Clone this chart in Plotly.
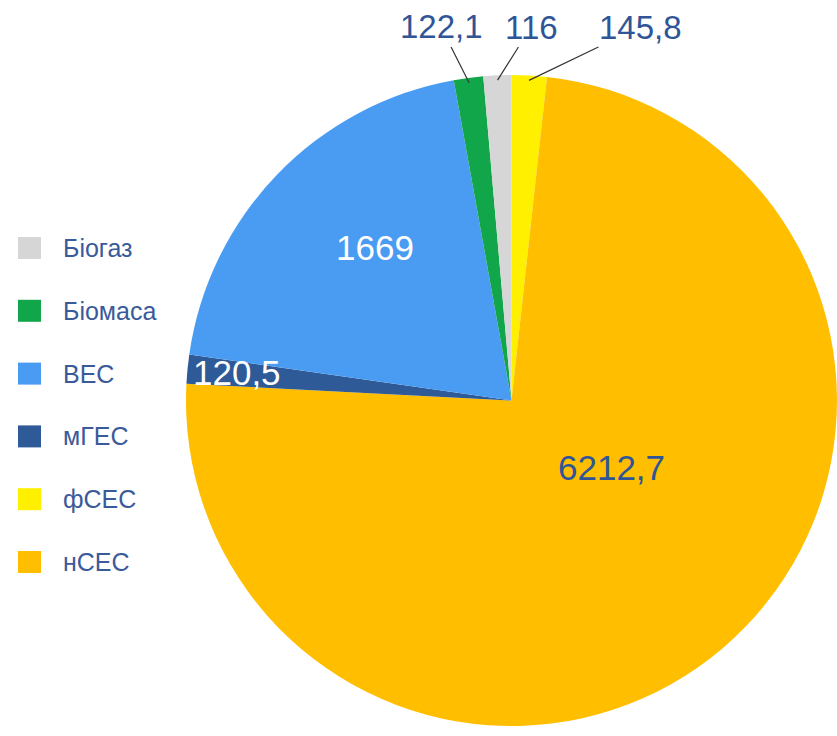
import math
import plotly.graph_objects as go

# ---- data (clockwise from 12 o'clock) ----
labels = ["фСЕС", "нСЕС", "мГЕС", "ВЕС", "Біомаса", "Біогаз"]
values = [145.8, 6212.7, 120.5, 1669, 122.1, 116]
value_text = ["145,8", "6212,7", "120,5", "1669", "122,1", "116"]
colors = ["#fff000", "#ffbf00", "#2e5a97", "#4a9cf2", "#12a64a", "#d6d6d6"]
legend_order = ["Біогаз", "Біомаса", "ВЕС", "мГЕС", "фСЕС", "нСЕС"]

W, H = 837, 736
TXT = "#2f5597"
FONT = "Liberation Sans, Arial, sans-serif"


def px(sx):
    return sx / W


def py(sy):
    return 1 - sy / H


# pie geometry (screen px)
left, right, top, bottom = 186, 837, 73, 728
dom_x = [px(left), px(right)]
dom_y = [py(bottom), py(top)]
cx = (left + right) / 2
cy = (top + bottom) / 2
r = min(right - left, bottom - top) / 2

fig = go.Figure()
fig.add_trace(go.Pie(
    labels=labels, values=values, textinfo="none",
    sort=False, direction="clockwise", rotation=0,
    marker=dict(colors=colors, line=dict(width=0)),
    domain=dict(x=dom_x, y=dom_y), showlegend=False, hoverinfo="label+value",
))

# slice mid-angles from data
total = sum(values)
cum = 0
mid = {}
for l, v in zip(labels, values):
    mid[l] = (cum + v / 2) / total * 2 * math.pi
    cum += v


def edge_point(lab, k):
    a = mid[lab]
    return cx + k * r * math.sin(a), cy - k * r * math.cos(a)


annotations = []
shapes = []

# outside labels with leader lines
for lab, (tx, ty) in {"Біомаса": (441, 27), "Біогаз": (531, 27), "фСЕС": (640, 27)}.items():
    ex, ey = edge_point(lab, 0.985)
    annotations.append(dict(
        x=px(ex), y=py(ey), xref="paper", yref="paper",
        ax=tx - ex, ay=ty - ey, axref="pixel", ayref="pixel",
        text=value_text[labels.index(lab)], showarrow=True, arrowhead=0,
        arrowwidth=1.2, arrowcolor="#333333",
        font=dict(size=33, color=TXT, family=FONT),
    ))

# inside labels
for lab, (tx, ty, col, anchor) in {
    "ВЕС": (375, 247, "white", "center"),
    "нСЕС": (611, 467, TXT, "center"),
    "мГЕС": (191, 372, "white", "left"),
}.items():
    annotations.append(dict(
        x=px(tx), y=py(ty), xref="paper", yref="paper",
        xanchor=anchor, yanchor="middle", showarrow=False,
        text=value_text[labels.index(lab)],
        font=dict(size=35, color=col, family=FONT),
    ))

# legend (squares + text)
row0, step = 248, 62.8
for i, lab in enumerate(legend_order):
    yc = row0 + i * step
    c = colors[labels.index(lab)]
    shapes.append(dict(
        type="rect", xref="paper", yref="paper",
        x0=px(18), x1=px(41), y0=py(yc + 11), y1=py(yc - 11),
        fillcolor=c, line=dict(width=0),
    ))
    annotations.append(dict(
        x=px(61), y=py(yc), xref="paper", yref="paper",
        xanchor="left", yanchor="middle", showarrow=False,
        text=lab, font=dict(size=25, color="#3a5a9a", family=FONT),
    ))

fig.update_layout(
    width=W, height=H,
    margin=dict(l=0, r=0, t=0, b=0),
    paper_bgcolor="white", plot_bgcolor="white",
    showlegend=False,
    annotations=annotations, shapes=shapes,
)

fig.write_html(
    "out.html",
    config={"displayModeBar": False},
    post_script="document.body.style.margin='0';document.body.style.overflow='hidden';",
)
